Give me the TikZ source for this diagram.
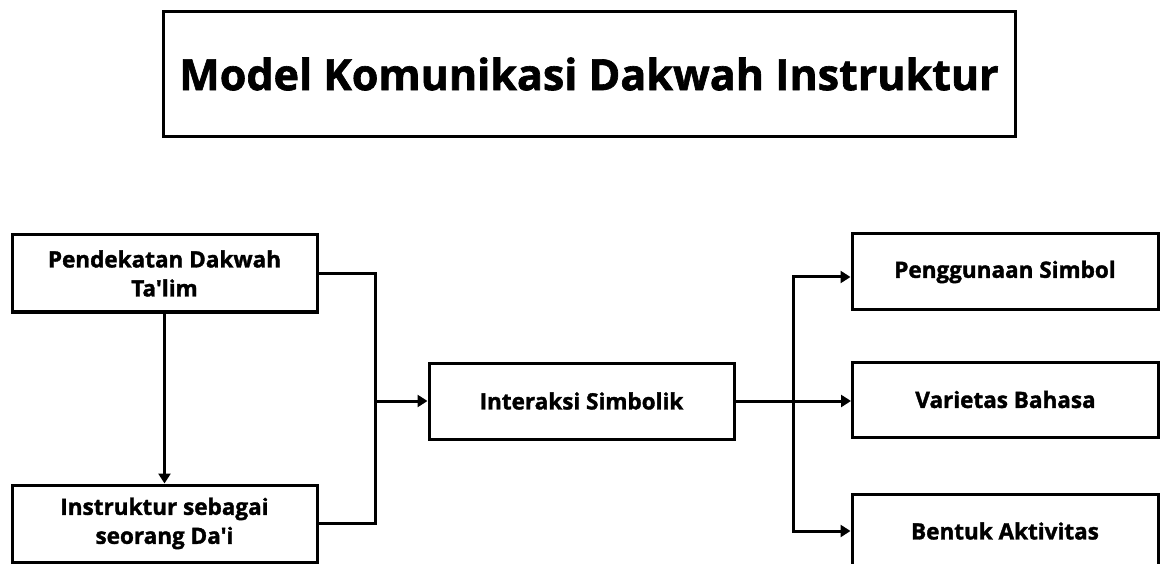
\documentclass[tikz,border=0pt]{standalone}
\usepackage{fontspec}
\setmainfont{Open Sans}[Ligatures=TeXOff,BoldFeatures={FakeBold=1.5}]
\usetikzlibrary{arrows.meta}
\begin{document}
\begin{tikzpicture}[x=1pt,y=-1pt,
  box/.style={draw,line width=3pt,inner sep=0pt,align=center,font=\bfseries\fontsize{22.5}{29}\selectfont},
  conn/.style={line width=3pt},
  arr/.style={line width=3pt,-{Triangle[length=10pt,width=12pt]}}]
\useasboundingbox (0,0) rectangle (1160,564);
\node[box,minimum width=852pt,minimum height=125pt,font=\bfseries\fontsize{43}{52}\selectfont] (title) at (589,74) {Model Komunikasi Dakwah Instruktur};
\node[box,minimum width=305pt,minimum height=77pt] (pend) at (164.5,273.5) {Pendekatan Dakwah\\Ta'lim};
\node[box,minimum width=305pt,minimum height=77pt] (inst) at (164.5,523.5) {Instruktur sebagai\\seorang Da'i};
\node[box,minimum width=305pt,minimum height=76pt] (inter) at (581.5,401) {Interaksi Simbolik};
\node[box,minimum width=306pt,minimum height=76pt] (peng) at (1005,272) {Penggunaan Simbol};
\node[box,minimum width=306pt,minimum height=75pt] (var) at (1005.5,399.5) {Varietas Bahasa};
\node[box,minimum width=306pt,minimum height=74pt] (bent) at (1005,531) {Bentuk Aktivitas};
\coordinate (jl) at (375,401);
\coordinate (jr) at (793,401);
\draw[arr] (pend.south) -- (inst.north);
\draw[conn] (pend.east) -| (jl) |- (inst.east);
\draw[arr] (jl) -- (inter.west);
\draw[arr] (inter.east) -- (var.west |- inter.east);
\draw[arr] (jr) |- ([yshift=-5pt]peng.west);
\draw[arr] (jr) |- (bent.west);
\end{tikzpicture}
\end{document}
